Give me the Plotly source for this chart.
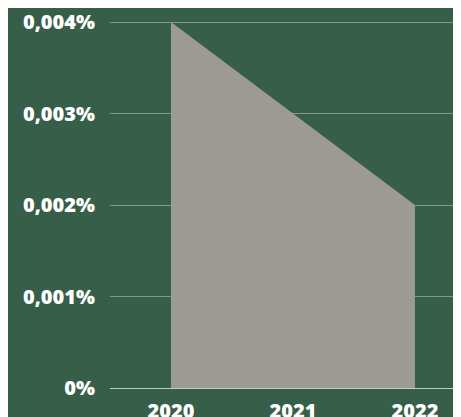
import plotly.graph_objects as go

years = [2020, 2021, 2022]
values = [0.004, 0.003, 0.002]
y_tickvals = [0, 0.001, 0.002, 0.003, 0.004]
y_ticktext = ["0%", "0,001%", "0,002%", "0,003%", "0,004%"]
x_ticktext = ["2020", "2021", "2022"]

bg = "#365e48"
fill = "#9d9995"

fig = go.Figure()
fig.add_trace(go.Scatter(
    x=years, y=values, mode="lines", fill="tozeroy",
    line=dict(width=0, color=fill), fillcolor=fill, hoverinfo="skip",
))

font = dict(family="Open Sans", size=20, color="white", weight=800)

fig.update_layout(
    width=461, height=417,
    margin=dict(l=102, r=0, t=0, b=37),
    paper_bgcolor=bg, plot_bgcolor=bg,
    showlegend=False,
    xaxis=dict(
        range=[2019.5, 2022.443], tickvals=years, ticktext=x_ticktext,
        showgrid=False, zeroline=False, showline=False,
        tickfont=font, ticks="", ticklabelstandoff=9,
        ticklabeloverflow="allow",
    ),
    yaxis=dict(
        range=[0, 0.004153], tickvals=y_tickvals, ticktext=y_ticktext,
        showgrid=True, gridcolor="#7d9b86", gridwidth=1,
        zeroline=True, zerolinecolor="#c5ccc4", zerolinewidth=1,
        showline=False, tickfont=font, ticks="", ticklabelstandoff=14,
        ticklabeloverflow="allow",
    ),
)

fig.write_html("out.html")
